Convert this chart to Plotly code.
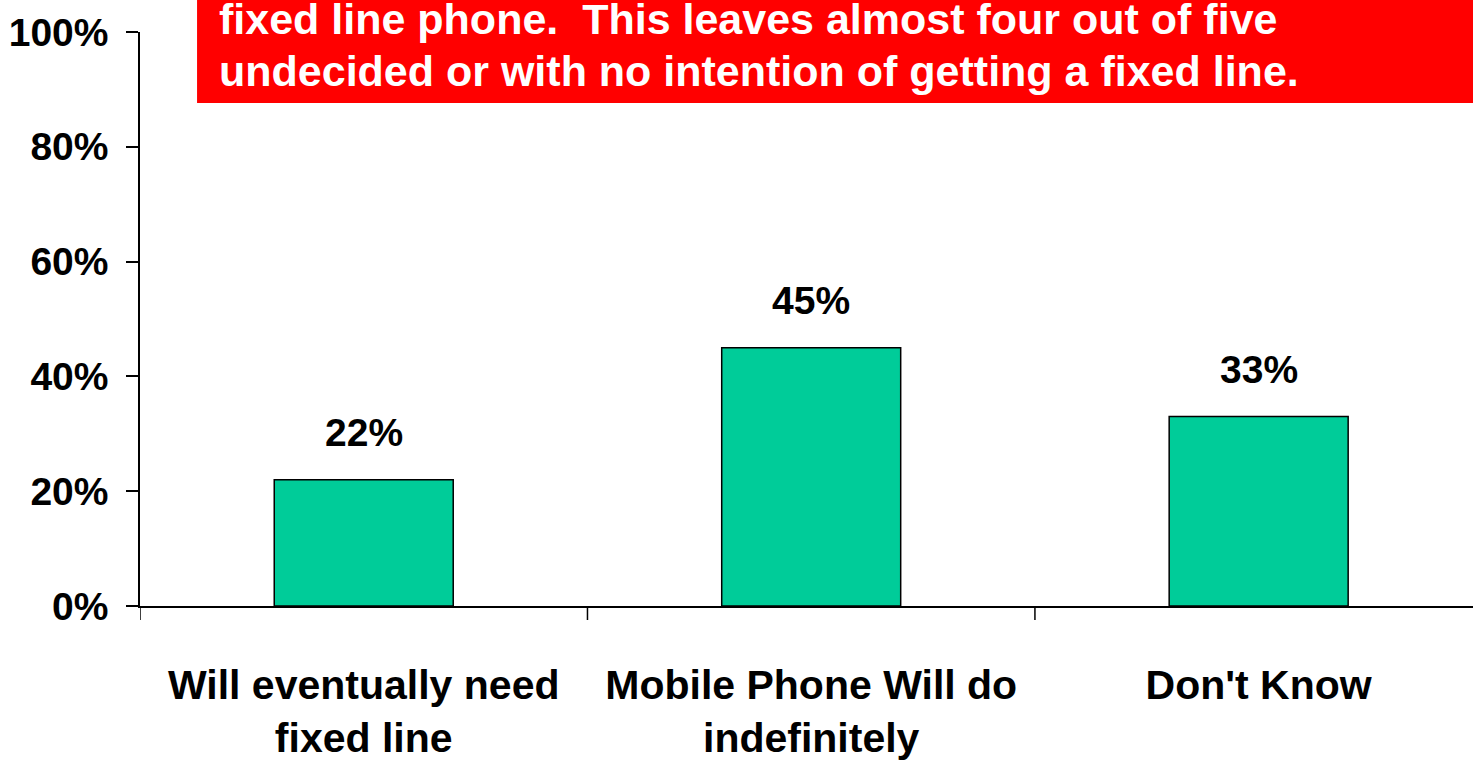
import plotly.graph_objects as go

# Survey responses on whether a fixed line will be needed
categories = ["Will eventually need<br>fixed line",
              "Mobile Phone Will do<br>indefinitely",
              "Don't Know"]
shares = [22, 45, 33]
y_ticks = [0, 20, 40, 60, 80, 100]
y_tick_labels = ["0%", "20%", "40%", "60%", "80%", "100%"]
headline_lines = [
    "fixed line phone.  This leaves almost four out of five",
    "undecided or with no intention of getting a fixed line.",
]

FONT = "Liberation Sans, Arial, sans-serif"

x_pos = list(range(len(categories)))

fig = go.Figure()
fig.add_trace(go.Bar(
    x=x_pos,
    y=shares,
    width=0.4,
    marker=dict(color="#00CC99", line=dict(color="black", width=1.5)),
    hoverinfo="skip",
))

# value labels above each bar
for xi, v in zip(x_pos, shares):
    fig.add_annotation(
        x=xi, y=v, xref="x", yref="y",
        text=f"{v}%", showarrow=False,
        yanchor="bottom", yshift=24,
        font=dict(family=FONT, size=39, color="black", weight="bold"),
    )

# red headline banner
fig.add_shape(
    type="rect", xref="paper", yref="paper",
    x0=0.0428, x1=1.01, y0=0.8763, y1=1.2,
    fillcolor="#FF0000", line=dict(width=0), layer="above",
)
for i, line in enumerate(headline_lines):
    baseline_px = 33 + 52 * i
    fig.add_annotation(
        x=0.0578, xref="paper",
        y=(606 - baseline_px - 12) / 574, yref="paper",
        text=line, showarrow=False,
        xanchor="left", yanchor="bottom", align="left",
        font=dict(family=FONT, size=43, color="white", weight="bold"),
    )

fig.update_layout(
    width=1473, height=762,
    margin=dict(l=140, r=0, t=32, b=156),
    paper_bgcolor="white", plot_bgcolor="white",
    showlegend=False,
)
fig.update_xaxes(
    type="linear",
    range=[-0.5, 2.479],
    tickmode="array", tickvals=x_pos, ticktext=categories,
    tickangle=0,
    showgrid=False, zeroline=False,
    showline=True, linecolor="black", linewidth=1.5,
    ticks="",
    tickfont=dict(family=FONT, size=41, color="black", weight="bold"),
    ticklabelstandoff=42,
    automargin=False,
)
fig.update_yaxes(
    range=[0, 100],
    tickmode="array", tickvals=y_ticks, ticktext=y_tick_labels,
    showgrid=False, zeroline=False,
    showline=True, linecolor="black", linewidth=1.5,
    ticks="outside", ticklen=12, tickwidth=1.5, tickcolor="black",
    tickfont=dict(family=FONT, size=39, color="black", weight="bold"),
    ticklabelstandoff=10,
    automargin=False,
)

# category boundary ticks on the x axis
for b in [-0.5, 0.5, 1.5]:
    fig.add_shape(type="line", xref="x", yref="paper",
                  x0=b, x1=b, y0=0, y1=-14 / 574,
                  line=dict(color="black", width=1.5))

fig.write_html("out.html")
